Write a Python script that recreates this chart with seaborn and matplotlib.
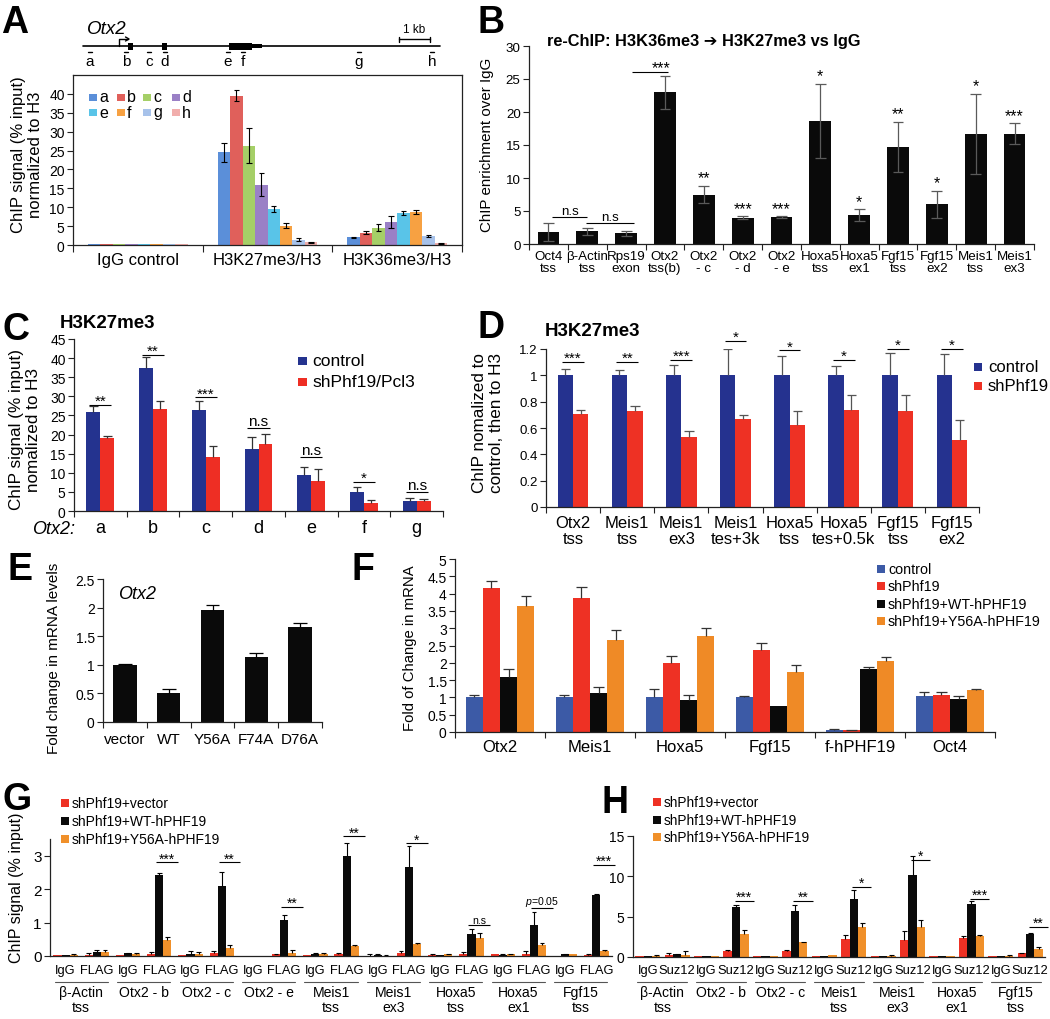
import numpy as np
import pandas as pd
import matplotlib
matplotlib.use("Agg")
import matplotlib.pyplot as plt
from matplotlib import font_manager
from matplotlib.patches import Rectangle
import seaborn as sns

# ---------------- data ----------------
# Panel A
a_groups = ["IgG control", "H3K27me3/H3", "H3K36me3/H3"]
a_probes = ["a", "b", "c", "d", "e", "f", "g", "h"]
a_igg = [0.2, 0.2, 0.2, 0.2, 0.2, 0.2, 0.2, 0.2]
a_k27 = [24.5, 39.5, 26.3, 16.0, 9.6, 5.1, 1.4, 0.7]
a_k27_err = [2.5, 1.5, 4.7, 3.0, 0.8, 0.6, 0.4, 0.2]
a_k36 = [2.0, 3.3, 4.6, 6.2, 8.5, 8.7, 2.4, 0.5]
a_k36_err = [0.2, 0.3, 0.9, 1.6, 0.6, 0.5, 0.3, 0.15]
# gene schematic (diagram coordinates)
gene_line = [83, 440]
probe_x = [90, 126, 149, 165, 228, 243, 359, 432]
exon_spans = [[128, 133], [162, 167], [229, 252]]
utr_span = [252, 262]

# Panel B
b_labels = ["Oct4\ntss", "β-Actin\ntss", "Rps19\nexon", "Otx2\ntss(b)", "Otx2\n- c", "Otx2\n- d",
            "Otx2\n- e", "Hoxa5\ntss", "Hoxa5\nex1", "Fgf15\ntss", "Fgf15\nex2", "Meis1\ntss", "Meis1\nex3"]
b_vals = [1.8, 1.9, 1.6, 23.0, 7.5, 4.0, 4.1, 18.7, 4.4, 14.7, 6.0, 16.7, 16.7]
b_err = [1.4, 0.6, 0.4, 2.5, 1.3, 0.2, 0.1, 5.6, 0.9, 3.8, 2.1, 6.1, 1.6]
b_sig = ["", "", "", "***", "**", "***", "***", "*", "*", "**", "*", "*", "***"]

# Panel C
c_cats = ["a", "b", "c", "d", "e", "f", "g"]
c_series = ["control", "shPhf19/Pcl3"]
c_ctrl = [25.9, 37.3, 26.5, 16.1, 9.5, 4.9, 2.6]
c_ctrl_err = [1.6, 3.1, 2.3, 3.3, 2.1, 1.3, 0.8]
c_sh = [19.0, 26.6, 14.1, 17.6, 7.8, 2.2, 2.6]
c_sh_err = [0.7, 2.2, 2.8, 2.6, 3.3, 0.7, 0.6]
c_sig = ["**", "**", "***", "n.s", "n.s", "*", "n.s"]
c_sig_y = [27.7, 40.9, 29.7, 21.7, 14.0, 7.6, 5.1]

# Panel D
d_cats = ["Otx2\ntss", "Meis1\ntss", "Meis1\nex3", "Meis1\ntes+3k", "Hoxa5\ntss", "Hoxa5\ntes+0.5k",
          "Fgf15\ntss", "Fgf15\nex2"]
d_series = ["control", "shPhf19"]
d_ctrl = [1.0, 1.0, 1.0, 1.0, 1.0, 1.0, 1.0, 1.0]
d_ctrl_err = [0.05, 0.04, 0.08, 0.20, 0.15, 0.07, 0.17, 0.16]
d_sh = [0.71, 0.73, 0.53, 0.67, 0.62, 0.74, 0.73, 0.51]
d_sh_err = [0.03, 0.04, 0.05, 0.03, 0.11, 0.11, 0.12, 0.15]
d_sig = ["***", "**", "***", "*", "*", "*", "*", "*"]
d_sig_y = [1.10, 1.10, 1.12, 1.26, 1.19, 1.12, 1.20, 1.20]

# Panel E
e_cats = ["vector", "WT", "Y56A", "F74A", "D76A"]
e_vals = [1.0, 0.51, 1.96, 1.13, 1.66]
e_err = [0.01, 0.07, 0.09, 0.07, 0.07]

# Panel F
f_cats = ["Otx2", "Meis1", "Hoxa5", "Fgf15", "f-hPHF19", "Oct4"]
f_series = ["control", "shPhf19", "shPhf19+WT-hPHF19", "shPhf19+Y56A-hPHF19"]
f_ctrl = [1.0, 1.0, 1.0, 1.0, 0.07, 1.05]
f_ctrl_err = [0.06, 0.07, 0.25, 0.05, 0.01, 0.10]
f_sh = [4.15, 3.88, 2.0, 2.37, 0.05, 1.08]
f_sh_err = [0.20, 0.32, 0.20, 0.19, 0.01, 0.07]
f_wt = [1.60, 1.13, 0.93, 0.74, 1.82, 0.94]
f_wt_err = [0.22, 0.17, 0.15, 0.0, 0.05, 0.11]
f_y56 = [3.65, 2.66, 2.78, 1.74, 2.05, 1.22]
f_y56_err = [0.27, 0.28, 0.22, 0.21, 0.13, 0.03]

# Panel G
g_targets = ["β-Actin\ntss", "Otx2 - b", "Otx2 - c", "Otx2 - e", "Meis1\ntss", "Meis1\nex3",
             "Hoxa5\ntss", "Hoxa5\nex1", "Fgf15\ntss"]
g_ab = ["IgG", "FLAG"]
g_series = ["shPhf19+vector", "shPhf19+WT-hPHF19", "shPhf19+Y56A-hPHF19"]
g_vec = [0.03, 0.04, 0.02, 0.07, 0.03, 0.08, 0.01, 0.05, 0.02, 0.05, 0.01, 0.08, 0.03, 0.07, 0.05, 0.06, 0.01, 0.04]
g_vec_err = [0.0, 0.04, 0.0, 0.04, 0.0, 0.06, 0.0, 0.01, 0.0, 0.05, 0.04, 0.07, 0.04, 0.06, 0.0, 0.08, 0.0, 0.02]
g_wt = [0.03, 0.13, 0.08, 2.42, 0.06, 2.08, 0.01, 1.09, 0.06, 3.0, 0.04, 2.65, 0.03, 0.65, 0.03, 0.92, 0.05, 1.82]
g_wt_err = [0.0, 0.05, 0.01, 0.06, 0.08, 0.42, 0.0, 0.15, 0.02, 0.38, 0.01, 0.63, 0.0, 0.15, 0.02, 0.40, 0.01, 0.04]
g_y56 = [0.03, 0.12, 0.07, 0.49, 0.07, 0.24, 0.01, 0.10, 0.07, 0.30, 0.01, 0.35, 0.06, 0.54, 0.06, 0.32, 0.05, 0.14]
g_y56_err = [0.02, 0.07, 0.03, 0.07, 0.05, 0.09, 0.0, 0.09, 0.01, 0.03, 0.03, 0.03, 0.01, 0.14, 0.01, 0.06, 0.0, 0.05]
g_sig_idx = [1, 2, 3, 4, 5, 6, 7, 8]
g_sig_text = ["***", "**", "**", "**", "*", "n.s", "$p$=0.05", "***"]
g_sig_y = [2.8, 2.8, 1.47, 3.58, 3.37, 0.92, 1.43, 2.72]

# Panel H
h_targets = ["β-Actin\ntss", "Otx2 - b", "Otx2 - c", "Meis1\ntss", "Meis1\nex3", "Hoxa5\nex1", "Fgf15\ntss"]
h_ab = ["IgG", "Suz12"]
h_vec = [0.1, 0.3, 0.1, 0.8, 0.1, 0.7, 0.1, 2.25, 0.1, 2.1, 0.1, 2.4, 0.1, 0.45]
h_vec_err = [0.0, 0.15, 0.0, 0.05, 0.0, 0.15, 0.0, 0.45, 0.0, 1.15, 0.0, 0.25, 0.0, 0.05]
h_wt = [0.15, 0.35, 0.1, 6.2, 0.1, 5.7, 0.1, 7.2, 0.1, 10.2, 0.1, 6.55, 0.1, 2.8]
h_wt_err = [0.0, 0.05, 0.0, 0.3, 0.0, 0.8, 0.0, 1.05, 0.0, 2.3, 0.0, 0.35, 0.0, 0.2]
h_y56 = [0.15, 0.3, 0.1, 2.9, 0.1, 1.8, 0.2, 3.75, 0.15, 3.7, 0.1, 2.55, 0.15, 1.0]
h_y56_err = [0.05, 0.4, 0.0, 0.4, 0.0, 0.1, 0.0, 0.5, 0.05, 0.9, 0.0, 0.2, 0.05, 0.25]
h_sig_idx = [1, 2, 3, 4, 5, 6]
h_sig_text = ["***", "**", "*", "*", "***", "**"]
h_sig_y = [7.0, 7.0, 8.7, 12.0, 7.2, 3.7]

# ---------------- style ----------------
sns.set_style("ticks")
_names = {f.name for f in font_manager.fontManager.ttflist}
BASE = "Liberation Sans" if "Liberation Sans" in _names else "DejaVu Sans"
NARROW = "Liberation Sans Narrow" if "Liberation Sans Narrow" in _names else BASE
NS = 1.0 if NARROW != BASE else 0.84
plt.rcParams["font.family"] = [BASE, "DejaVu Sans"]
plt.rcParams["mathtext.fontset"] = "custom"
plt.rcParams["mathtext.it"] = BASE + ":italic"
plt.rcParams["mathtext.rm"] = BASE
plt.rcParams["text.color"] = "black"
plt.rcParams["xtick.color"] = "#222222"
plt.rcParams["ytick.color"] = "#222222"
plt.rcParams["xtick.labelcolor"] = "black"
plt.rcParams["ytick.labelcolor"] = "black"

W, H = 1050, 1020
fig = plt.figure(figsize=(W / 100, H / 100), dpi=100)
fig.patch.set_facecolor("white")


def add_ax(x0, y0, x1, y1):
    ax = fig.add_axes([x0 / W, 1 - y1 / H, (x1 - x0) / W, (y1 - y0) / H])
    ax.patch.set_alpha(0)
    return ax


def bars(ax, cats, series, vals, colors, width):
    rows = []
    for s, vs in zip(series, vals):
        for c, v in zip(cats, vs):
            rows.append({"cat": c, "series": s, "val": v})
    df = pd.DataFrame(rows)
    sns.barplot(data=df, x="cat", y="val", hue="series", order=cats, hue_order=series,
                palette=colors, errorbar=None, width=width, saturation=1, ax=ax,
                legend=False, linewidth=0)
    return ax.containers


def errs(ax, container, err, both=False, color="black", lw=0.8, capfrac=0.3):
    for p, e in zip(container, err):
        if e <= 0:
            continue
        x = p.get_x() + p.get_width() / 2
        y = p.get_height()
        cw = p.get_width() * capfrac
        lo = y - e if both else y
        ax.vlines(x, lo, y + e, color=color, lw=lw, zorder=5)
        ax.hlines(y + e, x - cw, x + cw, color=color, lw=lw, zorder=5)
        if both:
            ax.hlines(y - e, x - cw, x + cw, color=color, lw=lw, zorder=5)


def style(ax, labels, ylim, yticks, yticklabels, fs_x, fs_y, xpad, fam=None, box=False, ls=1.0,
          minor=True, minor_len=4):
    n = len(labels)
    ax.set_xlim(-0.5, n - 0.5)
    ax.set_ylim(*ylim)
    kw = {} if fam is None else {"family": fam}
    ax.set_yticks(yticks)
    ax.set_yticklabels(yticklabels, fontsize=fs_y, **kw)
    ax.set_xticks(range(n))
    ax.set_xticklabels(labels, fontsize=fs_x, linespacing=ls, **kw)
    ax.set_xlabel("")
    ax.set_ylabel("")
    ax.tick_params(axis="x", which="major", length=0, pad=xpad)
    ax.tick_params(axis="y", which="major", length=4, width=0.8, direction="out", pad=2)
    if minor:
        ax.set_xticks(np.arange(n + 1) - 0.5, minor=True)
        ax.tick_params(axis="x", which="minor", length=minor_len, width=0.8, direction="out")
    for s in ["top", "right"]:
        ax.spines[s].set_visible(box)
    for s in ax.spines.values():
        s.set_linewidth(0.9)
        s.set_color("#222222")


def sig(ax, x0, x1, y, txt, fs, lw=0.8, fam=None):
    ax.plot([x0, x1], [y, y], color="black", lw=lw, clip_on=False, solid_capstyle="butt")
    va = "baseline" if "*" in txt else "bottom"
    kw = {} if fam is None else {"family": fam}
    ax.text((x0 + x1) / 2, y, txt, ha="center", va=va, fontsize=fs, clip_on=False, **kw)


# overlay in pixel coordinates
ov = fig.add_axes([0, 0, 1, 1])
ov.set_xlim(0, W)
ov.set_ylim(H, 0)
ov.axis("off")
ov.patch.set_alpha(0)
ov.set_zorder(10)


def legend_px(x_mark, ys, labels, colors, ms, text_x, fs, fam=None):
    kw = {} if fam is None else {"family": fam}
    for y, lab, c in zip(ys, labels, colors):
        ov.add_patch(Rectangle((x_mark, y - ms / 2), ms, ms, facecolor=c, edgecolor="none"))
        ov.text(text_x, y, lab, ha="left", va="center", fontsize=fs, **kw)


# panel letters
for let, x, y in [("A", 1, 33), ("B", 477, 33), ("C", 2, 340), ("D", 477, 338),
                  ("E", 7, 580), ("F", 352, 580), ("G", 2, 810), ("H", 602, 813)]:
    ov.text(x, y, let, fontsize=27, fontweight="bold", ha="left", va="baseline")

# ---------------- Panel A ----------------
# gene schematic
ov.text(87, 34, "Otx2", fontsize=13.5, style="italic", ha="left", va="baseline")
ov.plot(gene_line, [47, 47], color="black", lw=1.2)
for x0, x1 in exon_spans:
    ov.add_patch(Rectangle((x0, 43.5), x1 - x0, 7, facecolor="black", edgecolor="none"))
ov.add_patch(Rectangle((utr_span[0], 45.2), utr_span[1] - utr_span[0], 3.6, facecolor="black", edgecolor="none"))
ov.plot([119, 119, 128], [47, 40, 40], color="black", lw=1.0)
ov.plot([125.5, 129, 125.5], [38, 40, 42], color="black", lw=1.0)
for x, lab in zip(probe_x, a_probes):
    ov.plot([x - 2, x + 2], [52.5, 52.5], color="black", lw=1.0)
    ov.text(x, 62, lab, fontsize=11, ha="center", va="center")
ov.plot([399, 430], [40, 40], color="black", lw=1.0)
ov.plot([399, 399], [37.5, 42.5], color="black", lw=1.0)
ov.plot([430, 430], [37.5, 42.5], color="black", lw=1.0)
ov.text(414.5, 33, "1 kb", fontsize=8.5, ha="center", va="baseline")

a_colors = ["#5b8fd9", "#e0605b", "#a5cf67", "#9a80c6", "#59c4e8", "#f7a142", "#a7c2ea", "#f1aeac"]
axA = add_ax(73, 76, 462, 246)
a_vals = [[a_igg[i], a_k27[i], a_k36[i]] for i in range(len(a_probes))]
a_errs = [[0.0, a_k27_err[i], a_k36_err[i]] for i in range(len(a_probes))]
contA = bars(axA, a_groups, a_probes, a_vals, a_colors, 0.77)
for c, e in zip(contA, a_errs):
    errs(axA, c, e, both=True, lw=0.8, capfrac=0.22)
style(axA, a_groups, (0, 45), np.arange(0, 41, 5), [str(v) for v in range(0, 41, 5)],
      12, 10, 5, box=True, minor_len=5)
ov.text(27, 155, "ChIP signal (% input)\nnormalized to H3", rotation=90, ha="center", va="center",
        fontsize=12, multialignment="center", linespacing=1.1)
for i, (lab, col) in enumerate(zip(a_probes, a_colors)):
    xm = [89, 117, 143, 172][i % 4]
    ym = [98, 113][i // 4]
    ov.add_patch(Rectangle((xm, ym - 3.5), 7.5, 7.5, facecolor=col, edgecolor="none"))
    ov.text(xm + 10, ym, lab, fontsize=11.5, ha="left", va="center")

# ---------------- Panel B ----------------
axB = add_ax(529, 47, 1034, 245)
contB = bars(axB, b_labels, ["re-ChIP"], [b_vals], ["#0a0a0a"], 0.56)
errs(axB, contB[0], b_err, both=True, color="#5a5a5a", lw=0.9, capfrac=0.25)
style(axB, b_labels, (0, 30), np.arange(0, 31, 5), [str(v) for v in range(0, 31, 5)],
      11.5 * NS, 11.5 * NS, 4, fam=NARROW, ls=1.0)
for i, s in enumerate(b_sig):
    if s and i != 3:
        axB.text(i, b_vals[i] + b_err[i] + 0.5, s, ha="center", va="baseline", fontsize=11.5, clip_on=False)
sig(axB, 2.15, 3.08, 26.1, "", 11)
axB.text(2.9, 26.1, "***", ha="center", va="baseline", fontsize=11.5, clip_on=False)
sig(axB, 0.1, 1.0, 4.1, "n.s", 11.5 * NS, fam=NARROW)
sig(axB, 0.98, 2.2, 3.2, "n.s", 11.5 * NS, fam=NARROW)
ov.text(547, 46, "re-ChIP: H3K36me3 ➔ H3K27me3 vs IgG", fontsize=14 * NS, fontweight="bold",
        family=[NARROW, "DejaVu Sans"], ha="left", va="baseline")
ov.text(487, 145, "ChIP enrichment over IgG", rotation=90, ha="center", va="center",
        fontsize=13 * NS, family=NARROW)

# ---------------- Panel C ----------------
c_colors = ["#24338f", "#ee2e24"]
axC = add_ax(74, 340, 443, 512)
contC = bars(axC, c_cats, c_series, [c_ctrl, c_sh], c_colors, 0.53)
errs(axC, contC[0], c_ctrl_err, color="#333333", lw=0.9)
errs(axC, contC[1], c_sh_err, color="#333333", lw=0.9)
style(axC, c_cats, (0, 45), np.arange(0, 46, 5), [str(v) for v in range(0, 46, 5)], 13, 10, 6)
for i, (s, y) in enumerate(zip(c_sig, c_sig_y)):
    sig(axC, i - 0.21, i + 0.21, y, s, 11)
ov.text(75, 530, "Otx2:", fontsize=13, style="italic", ha="right", va="center")
ov.text(25, 430, "ChIP signal (% input)\nnomalized to H3", rotation=90, ha="center", va="center",
        fontsize=12.3, multialignment="center", linespacing=1.1)
ov.text(60, 328, "H3K27me3", fontsize=13.5, fontweight="bold", ha="left", va="baseline")
legend_px(298, [362, 383], c_series, c_colors, 8.5, 312, 12.5)

# ---------------- Panel D ----------------
d_colors = ["#25328f", "#ee3124"]
axD = add_ax(546, 350, 979, 508)
contD = bars(axD, d_cats, d_series, [d_ctrl, d_sh], d_colors, 0.57)
errs(axD, contD[0], d_ctrl_err, color="#555555", lw=0.9)
errs(axD, contD[1], d_sh_err, color="#555555", lw=0.9)
style(axD, d_cats, (0, 1.2), [0, 0.2, 0.4, 0.6, 0.8, 1.0, 1.2], ["0", "0.2", "0.4", "0.6", "0.8", "1", "1.2"],
      12, 9.5, 6, ls=1.05)
for i, (s, y) in enumerate(zip(d_sig, d_sig_y)):
    sig(axD, i - 0.2, i + 0.2, y, s, 11)
ov.text(545, 336, "H3K27me3", fontsize=13.5, fontweight="bold", ha="left", va="baseline")
ov.text(488, 423, "ChIP nomalized to\ncontrol, then to H3", rotation=90, ha="center", va="center",
        fontsize=12.3, multialignment="center", linespacing=1.1)
legend_px(974, [368, 387], d_series, d_colors, 7.5, 988, 12)

# ---------------- Panel E ----------------
axE = add_ax(103, 580, 322, 723)
contE = bars(axE, e_cats, ["Otx2"], [e_vals], ["#0a0a0a"], 0.53)
errs(axE, contE[0], e_err, color="black", lw=0.9)
style(axE, e_cats, (0, 2.5), [0, 0.5, 1.0, 1.5, 2.0, 2.5], ["0", "0.5", "1", "1.5", "2", "2.5"], 11, 10, 7)
ov.text(118, 599, "Otx2", fontsize=13, style="italic", ha="left", va="baseline")
ov.text(54, 658, "Fold change in mRNA levels", rotation=90, ha="center", va="center", fontsize=11)

# ---------------- Panel F ----------------
f_colors = ["#3c5aa6", "#ee3124", "#0a0a0a", "#ef8a26"]
axF = add_ax(455, 560, 995, 733)
contF = bars(axF, f_cats, f_series, [f_ctrl, f_sh, f_wt, f_y56], f_colors, 0.76)
for c, e in zip(contF, [f_ctrl_err, f_sh_err, f_wt_err, f_y56_err]):
    errs(axF, c, e, color="#333333", lw=0.9)
style(axF, f_cats, (0, 5), np.arange(0, 5.01, 0.5),
      ["0", "0.5", "1", "1.5", "2", "2.5", "3", "3.5", "4", "4.5", "5"], 12, 10, 5)
ov.text(410, 648, "Fold of Change in mRNA", rotation=90, ha="center", va="center", fontsize=10.7)
legend_px(877, [570, 587, 605, 622], f_series, f_colors, 8, 888, 10.3)

# ---------------- Panel G ----------------
g_colors = ["#ee3124", "#0a0a0a", "#f0902a"]
g_cats = [t + "|" + a for t in g_targets for a in g_ab]
g_ticklabels = [a for t in g_targets for a in g_ab]
axG = add_ax(50, 840, 612, 957)
contG = bars(axG, g_cats, g_series, [g_vec, g_wt, g_y56], g_colors, 0.78)
for c, e in zip(contG, [g_vec_err, g_wt_err, g_y56_err]):
    errs(axG, c, e, color="black", lw=0.8)
style(axG, g_ticklabels, (0, 3.5), [0, 1, 2, 3], ["0", "1", "2", "3"], 11 * NS, 11, 6, fam=NARROW,
      minor=False)
axG.tick_params(axis="y", labelsize=11)
for lab in axG.get_yticklabels():
    lab.set_family(BASE)
gh = 957 - 840
for i, t in enumerate(g_targets):
    axG.plot([2 * i - 0.5 + 0.15, 2 * i + 1.5 - 0.15], [-(983 - 957) / gh] * 2, color="#555555", lw=0.8,
             transform=axG.get_xaxis_transform(), clip_on=False)
    axG.text(2 * i + 0.5, -(986 - 957) / gh, t, transform=axG.get_xaxis_transform(), ha="center", va="top",
             fontsize=12 * NS, family=NARROW, linespacing=1.05)
for idx, s, y in zip(g_sig_idx, g_sig_text, g_sig_y):
    k = 2 * idx + 1
    sig(axG, k - 0.1, k + 0.6, y, s, 10 if "*" in s else 9 * NS, fam=None if "*" in s else NARROW)
ov.text(17, 888, "ChIP signal (% input)", rotation=90, ha="center", va="center", fontsize=11.5)
legend_px(61, [804, 822, 840], g_series, g_colors, 7.5, 72, 10)

# ---------------- Panel H ----------------
h_cats = [t + "|" + a for t in h_targets for a in h_ab]
h_ticklabels = [a for t in h_targets for a in h_ab]
axH = add_ax(633, 837, 1045, 958)
contH = bars(axH, h_cats, g_series, [h_vec, h_wt, h_y56], g_colors, 0.85)
for c, e in zip(contH, [h_vec_err, h_wt_err, h_y56_err]):
    errs(axH, c, e, color="black", lw=0.8)
style(axH, h_ticklabels, (0, 15), [0, 5, 10, 15], ["0", "5", "10", "15"], 11 * NS, 10, 5, fam=NARROW,
      minor=False)
for lab in axH.get_yticklabels():
    lab.set_family(BASE)
hh = 958 - 837
for i, t in enumerate(h_targets):
    axH.plot([2 * i - 0.5 + 0.15, 2 * i + 1.5 - 0.15], [-(983 - 958) / hh] * 2, color="#555555", lw=0.8,
             transform=axH.get_xaxis_transform(), clip_on=False)
    axH.text(2 * i + 0.5, -(986 - 958) / hh, t, transform=axH.get_xaxis_transform(), ha="center", va="top",
             fontsize=12 * NS, family=NARROW, linespacing=1.05)
for idx, s, y in zip(h_sig_idx, h_sig_text, h_sig_y):
    k = 2 * idx + 1
    sig(axH, k - 0.05, k + 0.6, y, s, 10)
legend_px(653, [803, 821, 838], g_series, g_colors, 7.5, 664, 9.8)

fig.savefig("out.png", dpi=100, facecolor="white")
